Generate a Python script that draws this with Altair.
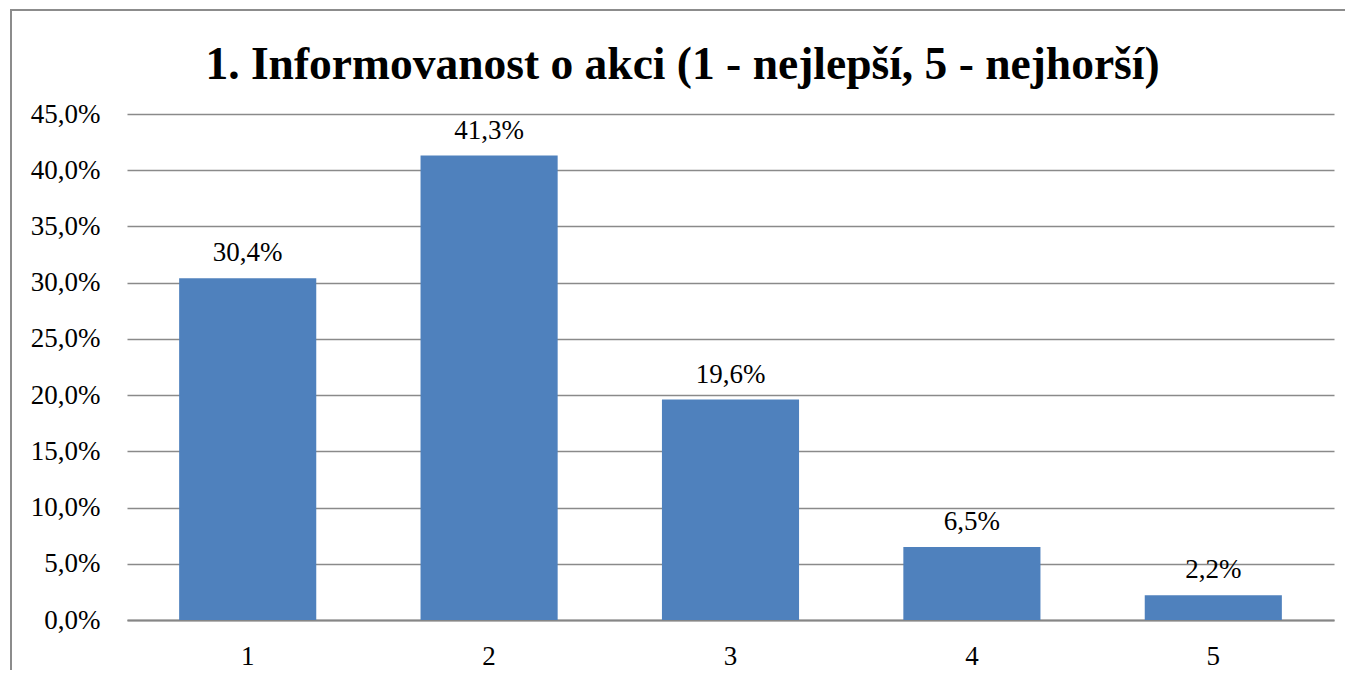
import altair as alt
import pandas as pd

categories = ["1", "2", "3", "4", "5"]
values = [0.304, 0.413, 0.196, 0.065, 0.022]
y_ticks = [0, 0.05, 0.10, 0.15, 0.20, 0.25, 0.30, 0.35, 0.40, 0.45]
title_text = ["1. Informovanost o akci (1 - nejlepší, 5 - nejhorší)"]

df = pd.DataFrame({"cat": categories, "val": values})

FONT = "Liberation Serif"
W, H = 1207, 506

base = alt.Chart(df).encode(
    x=alt.X("cat:N", sort=categories, title=None,
            scale=alt.Scale(paddingInner=0.432, paddingOuter=0.216),
            axis=alt.Axis(labelAngle=0, labelFont=FONT, labelFontSize=27,
                          labelColor="black", labelPadding=23, ticks=False,
                          domainColor="#868686", domainWidth=2, grid=False)),
    y=alt.Y("val:Q", title=None,
            scale=alt.Scale(domain=[0, 0.45], nice=False),
            axis=alt.Axis(values=y_ticks, labelFont=FONT, labelFontSize=27,
                          labelColor="black", labelPadding=27, ticks=False,
                          domain=False, gridColor="#8a8a8a", gridWidth=1.3,
                          labelExpr="replace(format(datum.value, '.1%'), '.', ',')")),
)

bars = base.mark_bar(color="#4F81BD")

labels = base.transform_calculate(
    lbl="replace(format(datum.val, '.1%'), '.', ',')"
).mark_text(font=FONT, fontSize=27, color="black", baseline="alphabetic", dy=-17).encode(
    text="lbl:N"
)

frame = alt.Chart(df).mark_rect(fill=None, stroke="#8c8c8c", strokeWidth=2).encode(
    x=alt.value(-116), x2=alt.value(W + 30), y=alt.value(-104), y2=alt.value(H + 80)
)

title = alt.Chart(pd.DataFrame({"t": title_text})).mark_text(
    font=FONT, fontSize=45.5, fontWeight="bold", color="black",
    align="center", baseline="alphabetic"
).encode(text="t:N", x=alt.value(W / 2 - 48), y=alt.value(-35))

chart = alt.layer(frame, bars, labels, title).properties(
    width=W, height=H,
    padding={"left": 119, "top": 106, "right": 11, "bottom": 50},
    autosize=alt.AutoSizeParams(type="none"),
).configure_view(stroke=None)

chart.save("out.html", embed_options={"renderer": "svg", "actions": False})
